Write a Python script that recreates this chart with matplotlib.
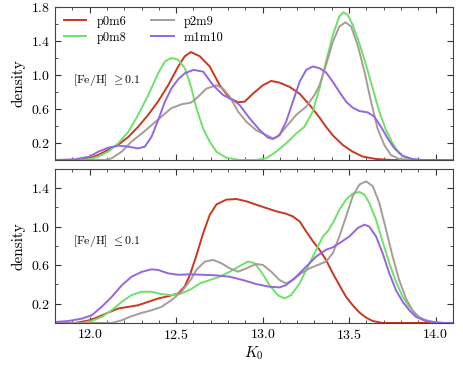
import matplotlib
matplotlib.use('Agg')
import matplotlib.pyplot as plt
from matplotlib.ticker import MultipleLocator

plt.rcParams['font.family'] = 'serif'
plt.rcParams['font.serif'] = ['cmr10', 'DejaVu Serif']
plt.rcParams['mathtext.fontset'] = 'cm'
plt.rcParams['axes.formatter.use_mathtext'] = True
plt.rcParams['axes.unicode_minus'] = False

labels = ['p0m6', 'p0m8', 'p2m9', 'm1m10']
colors = ['#c8381f', '#6fe06a', '#a69d95', '#9466e0']

# ---- top panel: [Fe/H] >= 0.1 ----
hi_red_x = [11.8, 11.92, 12.0, 12.05, 12.108, 12.165, 12.223, 12.28, 12.338, 12.396, 12.454, 12.512,
            12.55, 12.585, 12.637, 12.694, 12.752, 12.81, 12.858, 12.896, 12.944, 13.002, 13.05,
            13.098, 13.156, 13.214, 13.271, 13.329, 13.367, 13.406, 13.464, 13.521, 13.579, 13.656,
            13.75, 14.1]
hi_red_y = [0.0, 0.0, 0.02, 0.06, 0.12, 0.18, 0.27, 0.39, 0.53, 0.69, 0.88, 1.10,
            1.22, 1.27, 1.22, 1.10, 0.88, 0.725, 0.68, 0.686, 0.78, 0.88, 0.93,
            0.91, 0.86, 0.78, 0.65, 0.5, 0.39, 0.29, 0.176, 0.098, 0.04, 0.012,
            0.0, 0.0]

hi_grn_x = [11.8, 11.915, 12.0, 12.05, 12.108, 12.165, 12.223, 12.28, 12.338, 12.396, 12.435, 12.473,
            12.512, 12.55, 12.585, 12.617, 12.656, 12.694, 12.733, 12.79, 12.867, 12.963, 13.02,
            13.079, 13.136, 13.194, 13.242, 13.29, 13.329, 13.367, 13.406, 13.444, 13.467, 13.492,
            13.521, 13.56, 13.598, 13.637, 13.675, 13.714, 13.752, 13.79, 13.829, 13.887, 14.1]
hi_grn_y = [0.0, 0.0, 0.01, 0.04, 0.1, 0.196, 0.33, 0.53, 0.76, 1.02, 1.16, 1.20,
            1.18, 1.08, 0.87, 0.61, 0.37, 0.216, 0.098, 0.027, 0.0, 0.0, 0.02,
            0.098, 0.196, 0.31, 0.39, 0.57, 0.84, 1.16, 1.47, 1.69, 1.737, 1.71,
            1.59, 1.37, 1.12, 0.84, 0.57, 0.35, 0.196, 0.078, 0.02, 0.0, 0.0]

hi_gry_x = [11.8, 12.088, 12.127, 12.185, 12.242, 12.3, 12.358, 12.415, 12.473, 12.531, 12.585,
            12.617, 12.675, 12.733, 12.771, 12.81, 12.858, 12.906, 12.963, 13.02, 13.06, 13.088,
            13.136, 13.194, 13.252, 13.3, 13.329, 13.367, 13.406, 13.444, 13.479, 13.512, 13.55,
            13.589, 13.627, 13.665, 13.704, 13.742, 13.79, 13.848, 14.1]
hi_gry_y = [0.0, 0.0, 0.02, 0.098, 0.216, 0.31, 0.41, 0.51, 0.61, 0.655, 0.675,
            0.725, 0.84, 0.88, 0.84, 0.745, 0.57, 0.45, 0.35, 0.294, 0.255, 0.275,
            0.39, 0.53, 0.627, 0.765, 0.88, 1.12, 1.39, 1.57, 1.62, 1.57, 1.35,
            1.04, 0.686, 0.37, 0.176, 0.059, 0.012, 0.0, 0.0]

hi_pur_x = [11.8, 11.915, 12.0, 12.05, 12.108, 12.165, 12.223, 12.28, 12.319, 12.358, 12.396, 12.435,
            12.473, 12.512, 12.55, 12.6, 12.656, 12.714, 12.771, 12.829, 12.867, 12.925, 12.983,
            13.031, 13.06, 13.098, 13.136, 13.175, 13.214, 13.252, 13.29, 13.329, 13.367, 13.406,
            13.444, 13.483, 13.521, 13.56, 13.608, 13.646, 13.685, 13.723, 13.762, 13.81, 13.867,
            13.925, 14.1]
hi_pur_y = [0.0, 0.008, 0.04, 0.098, 0.145, 0.169, 0.157, 0.137, 0.157, 0.275, 0.47, 0.686,
            0.843, 0.95, 1.02, 1.06, 1.04, 0.88, 0.765, 0.706, 0.647, 0.49, 0.353,
            0.263, 0.247, 0.294, 0.45, 0.686, 0.92, 1.06, 1.10, 1.08, 1.03, 0.92,
            0.80, 0.686, 0.616, 0.576, 0.56, 0.51, 0.39, 0.255, 0.137, 0.05, 0.012,
            0.0, 0.0]

# ---- bottom panel: [Fe/H] <= 0.1 ----
lo_red_x = [11.8, 11.915, 12.0, 12.05, 12.108, 12.165, 12.223, 12.28, 12.338, 12.396, 12.454, 12.512,
            12.55, 12.58, 12.617, 12.656, 12.694, 12.733, 12.79, 12.848, 12.906, 12.963, 13.021,
            13.079, 13.136, 13.175, 13.214, 13.252, 13.29, 13.329, 13.367, 13.406, 13.444, 13.483,
            13.521, 13.56, 13.598, 13.637, 13.694, 14.1]
lo_red_y = [0.0, 0.0, 0.028, 0.063, 0.108, 0.15, 0.167, 0.184, 0.219, 0.254, 0.278, 0.306,
            0.38, 0.5, 0.7, 0.93, 1.12, 1.23, 1.28, 1.287, 1.263, 1.228, 1.193,
            1.159, 1.134, 1.106, 1.054, 0.95, 0.85, 0.76, 0.654, 0.515, 0.393, 0.27,
            0.184, 0.108, 0.056, 0.02, 0.0, 0.0]

lo_grn_x = [11.8, 11.954, 12.012, 12.069, 12.127, 12.185, 12.242, 12.3, 12.358, 12.415, 12.473, 12.531,
            12.585, 12.637, 12.694, 12.752, 12.81, 12.867, 12.915, 12.954, 12.992, 13.04, 13.088,
            13.127, 13.165, 13.214, 13.262, 13.31, 13.35, 13.38, 13.406, 13.444, 13.483, 13.521,
            13.56, 13.589, 13.617, 13.656, 13.694, 13.733, 13.771, 13.81, 13.848, 13.887, 13.925,
            13.983, 14.06, 14.1]
lo_grn_y = [0.0, 0.0, 0.02, 0.063, 0.132, 0.219, 0.289, 0.324, 0.324, 0.3, 0.289, 0.306,
            0.35, 0.41, 0.445, 0.48, 0.532, 0.59, 0.637, 0.62, 0.532, 0.393, 0.289,
            0.254, 0.289, 0.41, 0.585, 0.759, 0.9, 0.96, 1.037, 1.176, 1.28, 1.343,
            1.36, 1.333, 1.246, 1.072, 0.845, 0.62, 0.428, 0.271, 0.167, 0.087, 0.038,
            0.01, 0.0, 0.0]

lo_gry_x = [11.8, 12.127, 12.185, 12.242, 12.3, 12.358, 12.415, 12.473, 12.531, 12.585, 12.617,
            12.665, 12.714, 12.762, 12.81, 12.858, 12.906, 12.963, 13.002, 13.05, 13.098, 13.136,
            13.175, 13.223, 13.271, 13.319, 13.367, 13.406, 13.444, 13.483, 13.521, 13.56, 13.598,
            13.637, 13.675, 13.714, 13.752, 13.79, 13.829, 13.867, 13.906, 13.963, 14.04, 14.1]
lo_gry_y = [0.0, 0.0, 0.028, 0.07, 0.104, 0.132, 0.167, 0.237, 0.324, 0.45, 0.55,
            0.637, 0.654, 0.62, 0.567, 0.532, 0.567, 0.612, 0.602, 0.532, 0.445, 0.41,
            0.445, 0.515, 0.567, 0.602, 0.637, 0.724, 0.898, 1.106, 1.315, 1.437, 1.47,
            1.42, 1.246, 0.967, 0.689, 0.445, 0.254, 0.132, 0.056, 0.017, 0.0, 0.0]

lo_pur_x = [11.8, 11.877, 11.954, 12.012, 12.069, 12.127, 12.185, 12.242, 12.3, 12.358, 12.396, 12.454,
            12.512, 12.579, 12.656, 12.733, 12.81, 12.887, 12.963, 13.04, 13.098, 13.136, 13.194,
            13.252, 13.31, 13.367, 13.406, 13.444, 13.502, 13.55, 13.589, 13.617, 13.656, 13.694,
            13.733, 13.771, 13.81, 13.848, 13.887, 13.944, 14.02, 14.1]
lo_pur_y = [0.01, 0.02, 0.045, 0.08, 0.167, 0.27, 0.39, 0.48, 0.53, 0.557, 0.55, 0.515,
            0.50, 0.505, 0.50, 0.494, 0.48, 0.445, 0.404, 0.376, 0.369, 0.393, 0.48,
            0.585, 0.69, 0.76, 0.785, 0.828, 0.898, 0.985, 1.02, 1.0, 0.898, 0.724,
            0.515, 0.34, 0.22, 0.132, 0.063, 0.02, 0.0, 0.0]

hi_series = [(hi_red_x, hi_red_y), (hi_grn_x, hi_grn_y), (hi_gry_x, hi_gry_y), (hi_pur_x, hi_pur_y)]
lo_series = [(lo_red_x, lo_red_y), (lo_grn_x, lo_grn_y), (lo_gry_x, lo_gry_y), (lo_pur_x, lo_pur_y)]

fig = plt.figure(figsize=(4.63, 3.67), dpi=100)
ax1 = fig.add_axes([0.119, 0.564, 0.859, 0.417])
ax2 = fig.add_axes([0.119, 0.120, 0.859, 0.420])

for (x, y), c, lab in zip(hi_series, colors, labels):
    ax1.plot(x, y, color=c, lw=1.4, label=lab, solid_joinstyle='round')
for (x, y), c in zip(lo_series, colors):
    ax2.plot(x, y, color=c, lw=1.4, solid_joinstyle='round')

for ax in (ax1, ax2):
    ax.set_xlim(11.8, 14.1)
    ax.xaxis.set_major_locator(MultipleLocator(0.5))
    ax.xaxis.set_minor_locator(MultipleLocator(0.1))
    ax.yaxis.set_major_locator(MultipleLocator(0.4))
    ax.yaxis.set_minor_locator(MultipleLocator(0.2))
    ax.tick_params(which='both', direction='in', top=True, right=True, labelsize=10,
                   color='#333333')
    ax.tick_params(which='major', length=4.5)
    ax.tick_params(which='minor', length=2.5)
    for s in ax.spines.values():
        s.set_color('#444444')
    ax.set_ylabel('density', fontsize=11)

ax1.set_ylim(0, 1.8)
ax1.set_yticks([0.2, 0.6, 1.0, 1.4, 1.8])
ax1.tick_params(labelbottom=False)
ax2.set_ylim(0, 1.6)
ax2.set_yticks([0.2, 0.6, 1.0, 1.4])
ax2.set_xticks([12.0, 12.5, 13.0, 13.5, 14.0])
ax2.set_xlabel('$K_0$', fontsize=11, labelpad=2)

ax1.text(0.045, 0.52, r'[Fe/H] $\geq 0.1$', transform=ax1.transAxes, fontsize=8.5, va='center')
ax2.text(0.045, 0.53, r'[Fe/H] $\leq 0.1$', transform=ax2.transAxes, fontsize=8.5, va='center')

ax1.legend(loc='upper left', ncol=2, frameon=False, fontsize=9, handlelength=1.8,
           columnspacing=2.0, borderaxespad=0.3, labelspacing=0.3)

fig.savefig('out.png', dpi=100)
